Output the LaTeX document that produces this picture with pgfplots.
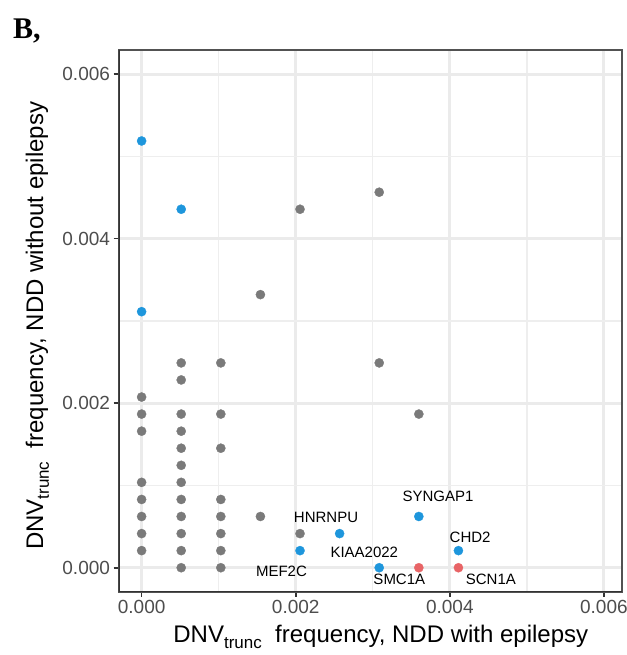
\documentclass[border=0pt]{standalone}
\usepackage{pgfplots}
\pgfplotsset{compat=1.18}
\usepackage{fontspec}
\setmainfont{Liberation Sans}
\newfontfamily\serifb{Liberation Serif}
\definecolor{ptgray}{RGB}{122,122,122}
\definecolor{ptblue}{RGB}{30,150,220}
\definecolor{ptred}{RGB}{232,100,102}
\definecolor{gridmaj}{RGB}{235,235,235}
\definecolor{gridmin}{RGB}{238,238,238}
\definecolor{ticklab}{RGB}{77,77,77}
\definecolor{frame}{RGB}{51,51,51}
\begin{document}
\begin{tikzpicture}[x=1pt,y=1pt]
\useasboundingbox (0,0) rectangle (626,655);
\node[anchor=base west, inner sep=0pt, font=\serifb\bfseries\fontsize{30}{30}\selectfont] at (13,616) {B,};
\begin{axis}[
  at={(118.5pt,63pt)}, anchor=south west,
  scale only axis, width=503.5pt, height=542pt,
  xmin=-0.0003, xmax=0.006235, ymin=-0.000295, ymax=0.006294,
  axis line style={draw=frame!85, line width=1.5pt},
  xtick={0,0.002,0.004,0.006}, xticklabels={0.000,0.002,0.004,0.006},
  ytick={0,0.002,0.004,0.006}, yticklabels={0.000,0.002,0.004,0.006},
  minor xtick={0.001,0.003,0.005}, minor ytick={0.001,0.003,0.005},
  grid=both,
  major grid style={draw=gridmaj, line width=2.8pt},
  minor grid style={draw=gridmin, line width=1.4pt},
  tick align=outside, xtick pos=lower, ytick pos=left,
  major tick length=5pt, minor tick length=0pt,
  tick style={draw=frame, line width=1.6pt},
  tick label style={font=\fontsize{19}{19}\selectfont, text=ticklab},
  scaled ticks=false,
  xlabel={DNV\raisebox{-0.45ex}{\fontsize{17}{17}\selectfont trunc}\ \ frequency, NDD with epilepsy},
  ylabel={DNV\raisebox{-0.45ex}{\fontsize{17}{17}\selectfont trunc}\ \ frequency, NDD without epilepsy},
  xlabel style={font=\fontsize{24}{24}\selectfont, at={(axis description cs:0.521,-0.083)}, anchor=center},
  ylabel style={font=\fontsize{24}{24}\selectfont, at={(axis description cs:-0.161,0.491)}, anchor=center},
  every axis plot/.append style={only marks, mark=*, mark size=4.6pt},
]
\addplot[ptgray, mark options={draw=ptgray, fill=ptgray, line width=0.3pt}] coordinates {
  (0,0.000208) (0,0.000415) (0,0.000623) (0,0.000830) (0,0.001038) (0,0.001660) (0,0.001868) (0,0.002075)
  (0.000514,0) (0.000514,0.000208) (0.000514,0.000415) (0.000514,0.000623) (0.000514,0.000830) (0.000514,0.001038)
  (0.000514,0.001245) (0.000514,0.001453) (0.000514,0.001660) (0.000514,0.001868) (0.000514,0.002283) (0.000514,0.002490)
  (0.001028,0) (0.001028,0.000208) (0.001028,0.000415) (0.001028,0.000623) (0.001028,0.000830) (0.001028,0.001453)
  (0.001028,0.001868) (0.001028,0.002490)
  (0.001542,0.000623) (0.001542,0.003320)
  (0.002056,0.000415) (0.002056,0.004358)
  (0.003084,0.004565) (0.003084,0.002490)
  (0.003598,0.001868)
};
\addplot[ptblue, mark options={draw=ptblue, fill=ptblue, line width=0.3pt}] coordinates {
  (0,0.005188) (0,0.003113) (0.000514,0.004358)
  (0.002056,0.000208) (0.002570,0.000415) (0.003084,0) (0.003598,0.000623) (0.004112,0.000208)
};
\addplot[ptred, mark options={draw=ptred, fill=ptred, line width=0.3pt}] coordinates {
  (0.003598,0) (0.004112,0)
};
\addplot[no marks, draw=black!40, line width=2.2pt, dash pattern=on 9pt off 6pt] coordinates {
  (-0.0003,-0.0003) (0.0064,0.0064)
};
\draw[frame, line width=2.6pt] (rel axis cs:0,1) -- (rel axis cs:0,0) -- (rel axis cs:1,0);
\begin{scope}[every node/.style={font=\fontsize{15}{15}\selectfont, inner sep=0pt}]
\node at (axis cs:0.003846,0.000872) {SYNGAP1};
\node at (axis cs:0.002394,0.000609) {HNRNPU};
\node at (axis cs:0.004264,0.000365) {CHD2};
\node at (axis cs:0.002890,0.000187) {KIAA2022};
\node at (axis cs:0.001815,-0.0000486) {MEF2C};
\node at (axis cs:0.003345,-0.000141) {SMC1A};
\node at (axis cs:0.004533,-0.000141) {SCN1A};
\end{scope}
\end{axis}
\end{tikzpicture}
\end{document}
